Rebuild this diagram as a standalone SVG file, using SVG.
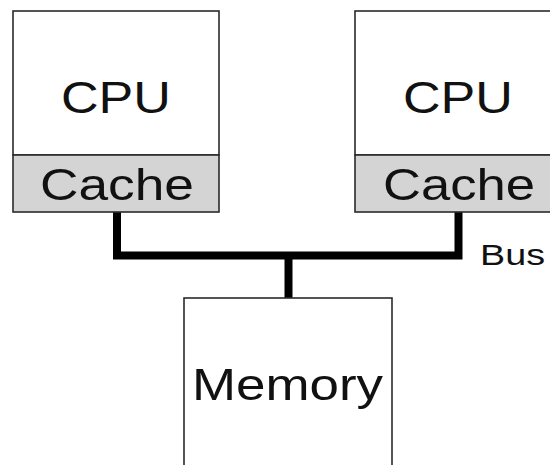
<svg xmlns="http://www.w3.org/2000/svg" width="550" height="465" viewBox="0 0 550 465">
<style>
.box{fill:#ffffff;stroke:#2a2a2a;stroke-width:1.6}
.cache{fill:#d4d4d4;stroke:#2a2a2a;stroke-width:1.6}
.lbl{font-family:"Liberation Sans",Arial,sans-serif;font-size:44px;fill:#111}
.bus{fill:none;stroke:#000;stroke-width:8;stroke-linejoin:miter;stroke-linecap:butt}
</style>
<rect width="550" height="465" fill="#ffffff"/>
<g id="connectors">
<polyline class="bus" points="117,212 117,255.5 458.5,255.5 458.5,212"/>
<line class="bus" x1="288.5" y1="255.5" x2="288.5" y2="298"/>
</g>
<g id="cpu1">
<rect class="box" x="13" y="11" width="206" height="144"/>
<rect class="cache" x="13" y="155" width="206" height="57"/>
<text class="lbl" x="61" y="113" textLength="110" lengthAdjust="spacingAndGlyphs">CPU</text>
<text class="lbl" x="40" y="200" textLength="154" lengthAdjust="spacingAndGlyphs">Cache</text>
</g>
<g id="cpu2">
<rect class="box" x="355" y="11" width="210" height="144"/>
<rect class="cache" x="355" y="155" width="210" height="57"/>
<text class="lbl" x="403" y="113" textLength="110" lengthAdjust="spacingAndGlyphs">CPU</text>
<text class="lbl" x="383" y="200" textLength="152" lengthAdjust="spacingAndGlyphs">Cache</text>
</g>
<g id="memory">
<rect class="box" x="184" y="298" width="208" height="180"/>
<text class="lbl" x="192" y="400" textLength="191" lengthAdjust="spacingAndGlyphs">Memory</text>
</g>
<g id="bus-label">
<text x="480" y="265" font-family="'Liberation Sans',Arial,sans-serif" font-size="30" fill="#111" textLength="65" lengthAdjust="spacingAndGlyphs">Bus</text>
</g>
</svg>
